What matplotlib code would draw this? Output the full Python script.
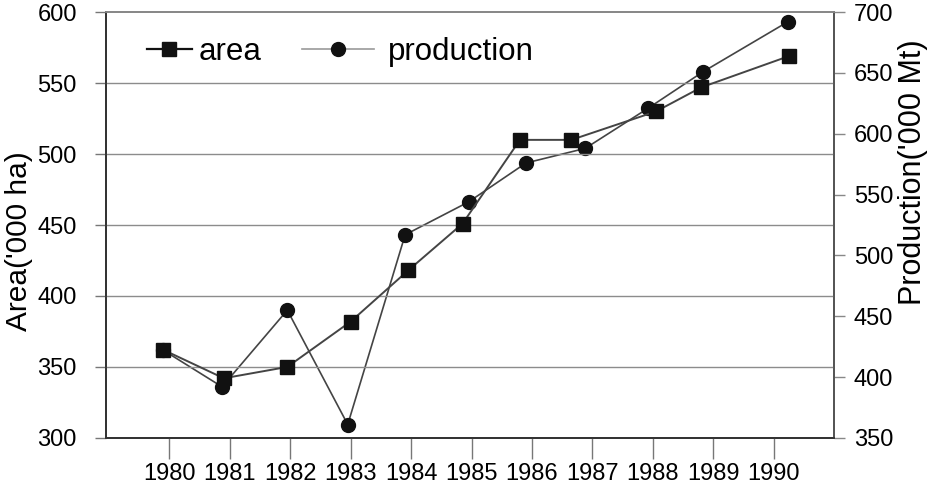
import numpy as np
import matplotlib.pyplot as plt
from matplotlib.lines import Line2D

plt.rcParams['font.family'] = ['Liberation Sans', 'DejaVu Sans']

# ---- data ----
years = [1980, 1981, 1982, 1983, 1984, 1985, 1986, 1987, 1988, 1989, 1990]

# plotted x positions of each series (markers sit a little off the year ticks)
area_x = [1979.9, 1980.9, 1981.95, 1983.0, 1983.95, 1984.85, 1985.8, 1986.65, 1988.05, 1988.8, 1990.25]
area = [362, 342, 350, 382, 418, 451, 510, 510, 530, 547, 569]          # '000 ha

prod_x = [1979.9, 1980.87, 1981.95, 1982.95, 1983.9, 1984.95, 1985.9, 1986.88, 1987.92, 1988.83, 1990.23]
production = [422, 392, 455, 361, 517, 544, 576, 588, 621, 651, 692]    # '000 Mt

area_ticks = [300, 350, 400, 450, 500, 550, 600]
prod_ticks = [350, 400, 450, 500, 550, 600, 650, 700]

# ---- figure ----
fig = plt.figure(figsize=(9.3, 4.86), dpi=100)
ax = fig.add_axes([0.114, 0.099, 0.783, 0.876])
ax2 = ax.twinx()

line_col = '#444444'
mark_col = '#111111'

# production on the right axis, behind the area series
ax2.plot(prod_x, production, color=line_col, lw=1.2, marker='o', ms=10,
         mfc=mark_col, mec=mark_col, zorder=2)
ax.plot(area_x, area, color=line_col, lw=1.4, marker='s', ms=10,
        mfc=mark_col, mec=mark_col, zorder=3)
ax.set_zorder(ax2.get_zorder() + 1)
ax.patch.set_visible(False)

# axes ranges and ticks
ax.set_xlim(1978.95, 1991.0)
ax.set_ylim(300, 600)
ax2.set_ylim(350, 700)
ax.set_xticks(years)
ax.set_yticks(area_ticks)
ax2.set_yticks(prod_ticks)

ax.tick_params(axis='x', direction='out', length=15, width=1, color='#777777',
               labelsize=17, pad=3)
ax.tick_params(axis='y', direction='out', length=8, width=1, color='#777777',
               labelsize=17, pad=13)
ax2.tick_params(axis='y', direction='out', length=8, width=1, color='#888888',
                labelsize=17, pad=6)

# horizontal grid at the area ticks
for v in area_ticks[1:-1]:
    ax.axhline(v, color='#8c8c8c', lw=1.0, zorder=1)

for a in (ax, ax2):
    a.spines['top'].set_color('#888888')
    a.spines['left'].set_color('#333333')
    a.spines['bottom'].set_color('#333333')
    a.spines['right'].set_color('#555555')
    for s in a.spines.values():
        s.set_linewidth(1.3)

ax.set_ylabel("Area('000 ha)", fontsize=21.5)
ax.yaxis.set_label_coords(-0.1195, 0.4625)
ax.yaxis.label.set_va('center')
ax2.set_ylabel("Production('000 Mt)", fontsize=22)
ax2.yaxis.set_label_coords(1.1085, 0.623)
ax2.yaxis.label.set_va('center')

# legend: two entries with their own handle lengths
area_handle = Line2D([], [], color='#111111', lw=1.6, marker='s', ms=10,
                     mfc=mark_col, mec=mark_col)
prod_handle = Line2D([], [], color='#999999', lw=1.2, marker='o', ms=10,
                     mfc=mark_col, mec=mark_col)
leg1 = ax.legend([area_handle], ['area'], loc='center left', frameon=False,
                 fontsize=22.5, handlelength=1.45, handletextpad=0.2,
                 borderpad=0, borderaxespad=0, bbox_to_anchor=(0.056, 0.906))
ax.add_artist(leg1)
ax.legend([prod_handle], ['production'], loc='center left', frameon=False,
          fontsize=22.5, handlelength=2.3, handletextpad=0.45,
          borderpad=0, borderaxespad=0, bbox_to_anchor=(0.269, 0.906))

fig.savefig('out.png', dpi=100)
